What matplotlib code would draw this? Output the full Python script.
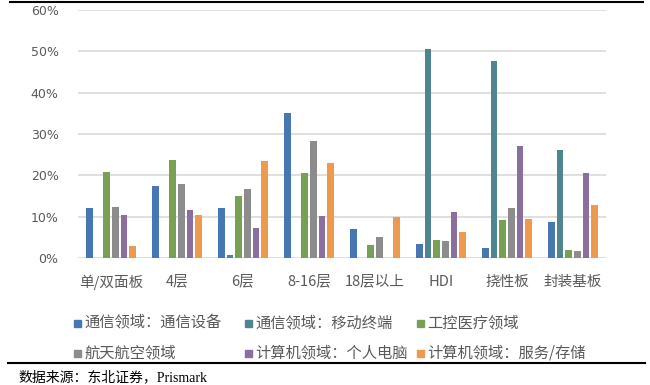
import numpy as np
import matplotlib.pyplot as plt
from matplotlib.lines import Line2D
from matplotlib.patches import Rectangle

plt.rcParams['font.family'] = ['Noto Sans CJK SC', 'DejaVu Sans']

# categories and series (percent)
categories = ['单/双面板', '4层', '6层', '8-16层', '18层以上', 'HDI', '挠性板', '封装基板']
series_names = ['通信领域：通信设备', '通信领域：移动终端', '工控医疗领域',
                '航天航空领域', '计算机领域：个人电脑', '计算机领域：服务/存储']
comm_equip = [12.0, 17.5, 12.2, 35.1, 7.0, 3.5, 2.5, 8.8]
mobile = [0.0, 0.0, 0.8, 0.0, 0.0, 50.6, 47.7, 26.1]
industrial = [20.8, 23.7, 15.0, 20.6, 3.1, 4.4, 9.2, 1.9]
aerospace = [12.3, 17.9, 16.6, 28.4, 5.2, 4.0, 12.2, 1.7]
pc = [10.4, 11.6, 7.3, 10.2, 0.0, 11.2, 27.1, 20.6]
server = [2.9, 10.4, 23.5, 23.0, 9.8, 6.3, 9.5, 12.9]
colors = ['#4677B0', '#4E8591', '#77A054', '#8C8C8C', '#8A6F9E', '#EE9A4E']

data = [comm_equip, mobile, industrial, aerospace, pc, server]

W, H = 650, 385
fig = plt.figure(figsize=(6.5, 3.85), dpi=100)
ax = fig.add_axes([78 / W, 1 - 258 / H, (606 - 78) / W, (258 - 10) / H])

x = np.arange(len(categories))
pitch = 0.132
width = 0.1
for i, vals in enumerate(data):
    ax.bar(x + (i - 2.5) * pitch, vals, width, color=colors[i], zorder=3)

ax.set_xlim(-0.5, len(categories) - 0.5)
ax.set_ylim(0, 60)
ax.set_yticks(range(0, 61, 10))
ax.set_yticklabels([f'{v}%' for v in range(0, 61, 10)], fontsize=9, color='#595959',
                   family=['DejaVu Sans'])
ax.yaxis.grid(True, color='#D9D9D9', linewidth=1.2, zorder=0)
ax.tick_params(axis='y', length=0, pad=14)
ax.set_xticks(x)
ax.set_xticklabels(categories, fontsize=10.5, color='#595959')
ax.tick_params(axis='x', length=0, pad=12)
for s in ax.spines.values():
    s.set_visible(False)

# legend, drawn entry by entry in a 3-column grid (row-wise order)
col_x = [74, 245, 417]
row_y = [323, 353]
for i, name in enumerate(series_names):
    cx = col_x[i % 3]
    cy = row_y[i // 3]
    fig.add_artist(Rectangle((cx / W, 1 - (cy + 3.5) / H), 6.5 / W, 7 / H,
                             color=colors[i], transform=fig.transFigure))
    fig.text((cx + 10) / W, 1 - cy / H, name, fontsize=11, color='#595959', va='center')

# top and bottom rules
fig.add_artist(Line2D([10 / W, 643 / W], [1 - 2 / H] * 2, color='black', lw=1.5))
fig.add_artist(Line2D([8 / W, 645 / W], [1 - 363 / H] * 2, color='black', lw=1.5))

fig.text(18 / W, 1 - 377 / H, '数据来源：东北证券，Prismark', fontsize=10, va='center',
         family=['Liberation Serif', 'Noto Sans CJK SC'])

fig.savefig('out.png', dpi=100)
